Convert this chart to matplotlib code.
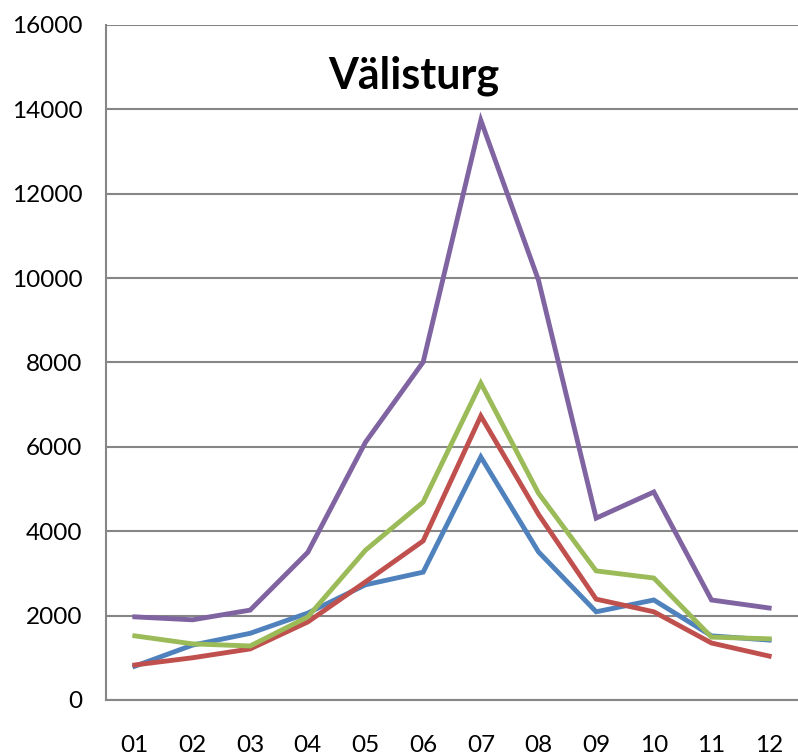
import matplotlib
matplotlib.use("Agg")
import matplotlib.pyplot as plt

months = ["01", "02", "03", "04", "05", "06", "07", "08", "09", "10", "11", "12"]
blue = [800, 1300, 1580, 2060, 2730, 3030, 5760, 3510, 2090, 2370, 1520, 1420]
red = [830, 1000, 1210, 1850, 2800, 3770, 6730, 4400, 2390, 2090, 1350, 1040]
green = [1520, 1330, 1280, 1970, 3550, 4690, 7510, 4900, 3060, 2890, 1490, 1450]
purple = [1970, 1900, 2130, 3500, 6110, 8010, 13740, 9950, 4310, 4930, 2370, 2180]
title = "Välisturg"
yticks = list(range(0, 16001, 2000))

plt.rcParams['font.family'] = ['Lato', 'DejaVu Sans']
fig = plt.figure(figsize=(7.98, 7.56), dpi=100)
ax = fig.add_axes([0.1328, 0.0741, 0.8672, 0.8929])

x = list(range(1, len(months) + 1))
for vals, col in [(blue, '#4F81BD'), (red, '#C0504D'), (green, '#9BBB59'), (purple, '#8064A2')]:
    ax.plot(x, vals, color=col, lw=3.5, solid_joinstyle='miter')

ax.set_xlim(0.5, 12.5)
ax.set_ylim(0, 16000)
ax.set_yticks(yticks)
ax.set_yticklabels([str(v) for v in yticks], fontsize=17.5)
ax.set_xticks(x)
ax.set_xticklabels(months, fontsize=17.5)
ax.grid(axis='y', color='#868686', lw=1.5)
ax.set_axisbelow(True)
for s in ['top', 'right']:
    ax.spines[s].set_visible(False)
for s in ['left', 'bottom']:
    ax.spines[s].set_color('#868686')
    ax.spines[s].set_linewidth(1.5)
ax.tick_params(axis='both', length=0)
ax.tick_params(axis='y', pad=17)
ax.tick_params(axis='x', pad=25)
ax.text(0.445, 0.925, title, transform=ax.transAxes, ha='center', va='center',
        fontsize=31, fontweight='bold')

fig.savefig("out.png", dpi=100)
